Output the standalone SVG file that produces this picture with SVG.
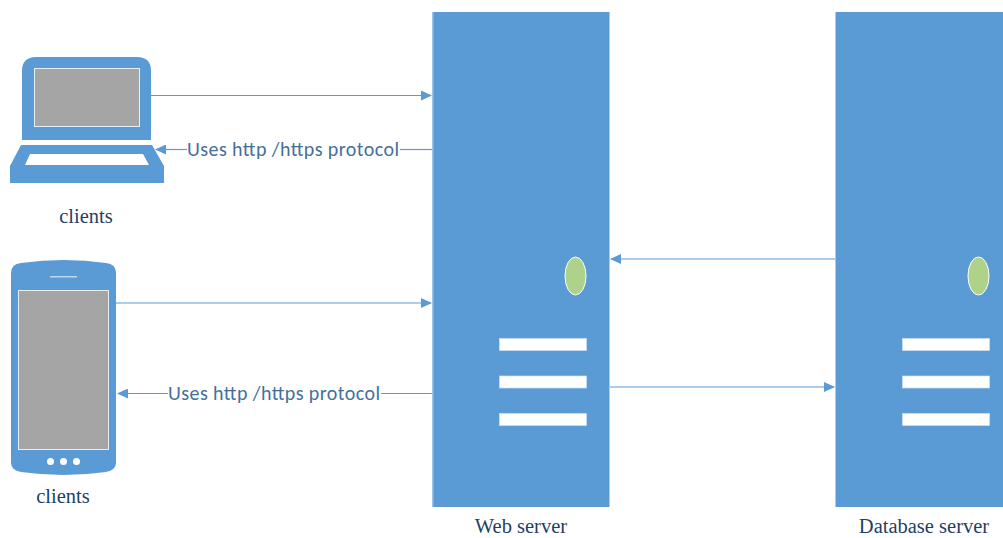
<svg xmlns="http://www.w3.org/2000/svg" width="1003" height="538" viewBox="0 0 1003 538">
<style>
.body{fill:#5b9bd5}
.screen{fill:#a5a5a5;stroke:#e6eef6;stroke-width:1}
.slot{fill:#fff;stroke:#cfe0f1;stroke-width:.7}
.led{fill:#aed28a;stroke:#fff;stroke-width:1}
.edge{fill:#9dc3e6}
.cn{fill:none;stroke:#5b9bd5;stroke-width:1.2}
.lbl{font-family:"Carlito","Lato","Liberation Sans",sans-serif;font-size:20px;fill:#44709a}
.cap{font-family:"Liberation Serif",serif;font-size:20.500px;fill:#1f3f66;text-anchor:middle}
</style>
<defs>
<marker id="a" markerWidth="11" markerHeight="10" refX="10" refY="5" orient="auto" markerUnits="userSpaceOnUse"><path d="M0 0L11 5L0 10Z" fill="#5b9bd5"/></marker>
</defs>
<g id="laptop">
<path class="body" d="M22 140V71Q22 57 36 57H137Q151 57 151 71V140Z"/>
<rect class="screen" x="34.500" y="68.500" width="105" height="58"/>
<path class="body" d="M21 145H152L164 166V183H10V166Z"/>
<path d="M30 154H143L149 165H25Z" fill="#fff"/>
<text class="cap" x="86" y="223">clients</text>
</g>
<g id="phone">
<path class="body" d="M11 273Q11 264 21 263Q64 257 106 263Q116 264 116 273V463Q116 470 106 472Q64 478 21 472Q11 470 11 463Z"/>
<rect x="50" y="276" width="27" height="1.500" fill="#bdd7ee"/>
<rect class="screen" x="18.500" y="290.500" width="90" height="159"/>
<circle cx="50.500" cy="461.500" r="3.500" fill="#fff"/><circle cx="63.500" cy="461.500" r="3.500" fill="#fff"/><circle cx="76.500" cy="461.500" r="3.500" fill="#fff"/>
<text class="cap" x="63" y="503">clients</text>
</g>
<g id="web-server">
<rect class="body" x="432" y="12" width="177.500" height="495"/>
<rect class="edge" x="432" y="12" width="1.500" height="495"/>
<ellipse class="led" cx="575.500" cy="276" rx="10.500" ry="19"/>
<rect class="slot" x="499.500" y="338.500" width="87" height="12"/>
<rect class="slot" x="499.500" y="376" width="87" height="12"/>
<rect class="slot" x="499.500" y="413.500" width="87" height="12"/>
<text class="cap" x="521" y="533">Web server</text>
</g>
<g id="database-server">
<rect class="body" x="835.500" y="12" width="167.500" height="495"/>
<ellipse class="led" cx="978.500" cy="276" rx="10.500" ry="19"/>
<rect class="slot" x="902.500" y="338.500" width="87" height="12"/>
<rect class="slot" x="902.500" y="376" width="87" height="12"/>
<rect class="slot" x="902.500" y="413.500" width="87" height="12"/>
<text class="cap" x="924" y="533">Database server</text>
</g>
<g id="connectors">
<path class="cn" marker-end="url(#a)" d="M151 95.500H431"/>
<path class="cn" marker-end="url(#a)" d="M187 149.500H156"/>
<path class="cn" d="M400 149.500H432"/>
<path class="cn" marker-end="url(#a)" d="M116 303H431"/>
<path class="cn" marker-end="url(#a)" d="M168 393.500H118"/>
<path class="cn" d="M381 393.500H432"/>
<path class="cn" marker-end="url(#a)" d="M835 259H611"/>
<path class="cn" marker-end="url(#a)" d="M610 387H834"/>
</g>
<g id="connector-labels">
<text class="lbl" x="187" y="156" textLength="212" lengthAdjust="spacing">Uses http /https protocol</text>
<text class="lbl" x="168" y="400" textLength="212" lengthAdjust="spacing">Uses http /https protocol</text>
</g>
</svg>
